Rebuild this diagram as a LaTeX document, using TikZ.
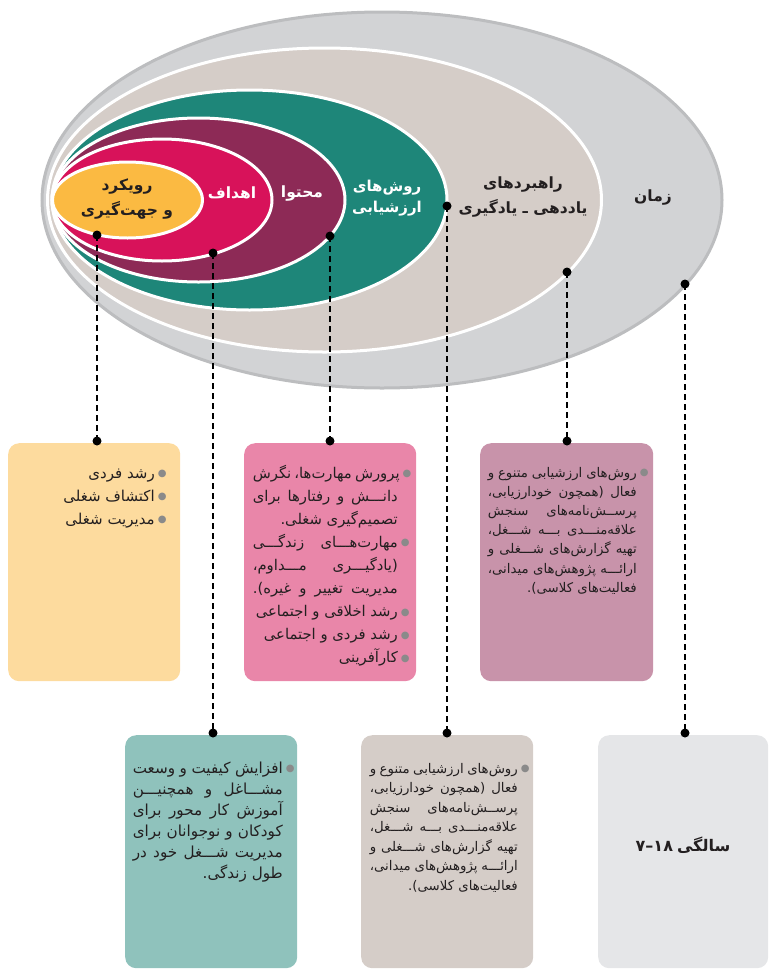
\documentclass[tikz,border=0pt]{standalone}
\usepackage{fontspec}
\newfontfamily\fa[Script=Arabic]{DejaVu Sans}
\TeXXeTstate=1
\definecolor{ellgray}{HTML}{D2D3D5}
\definecolor{ellgrayedge}{HTML}{BCBDBF}
\definecolor{ellbeige}{HTML}{D5CDC8}
\definecolor{ellteal}{HTML}{1E8679}
\definecolor{ellmaroon}{HTML}{8D2A56}
\definecolor{ellcrimson}{HTML}{D8125A}
\definecolor{ellorange}{HTML}{FBBA42}
\definecolor{boxorange}{HTML}{FDDB9E}
\definecolor{boxpink}{HTML}{E986A9}
\definecolor{boxmauve}{HTML}{C893AA}
\definecolor{boxteal}{HTML}{8FC2BC}
\definecolor{boxbeige}{HTML}{D5CDC8}
\definecolor{boxgray}{HTML}{E5E6E8}
\definecolor{bulgray}{HTML}{8A8A8A}
\definecolor{txt}{HTML}{231F20}
\newlength\colw
\newcommand\bulmark{{\color{bulgray}\fontsize{10}{10}\selectfont ●}}
\newcommand\jl[1]{\hbox to \colw{\beginR #1\endR}}
\newcommand\bl[1]{\hbox to \colw{\beginR #1\endR\rlap{\hskip 3pt\raise 1.5pt\hbox{\bulmark}}}}
\tikzset{
  ringline/.style={draw=white, line width=3pt},
  boxnode/.style={rounded corners=11pt, inner sep=0pt, draw=none, anchor=north west},
  conn/.style={black, line width=2pt, dash pattern=on 6pt off 4pt},
  pin/.style={fill=black},
  lab/.style={font=\fa\bfseries\fontsize{15.5}{25}\selectfont, align=center, inner sep=0pt},
  boxtext/.style={anchor=base east, inner sep=0pt, text=txt},
}
\begin{document}
\begin{tikzpicture}[x=1pt, y=-1pt]
\useasboundingbox (0,0) rectangle (770,970);
% ellipses
\fill[ellgray] (382,200) ellipse [x radius=340pt, y radius=188pt];
\draw[ellgrayedge, line width=3pt] (382,200) ellipse [x radius=340pt, y radius=188pt];
\filldraw[fill=ellbeige, ringline] (324.5,200) ellipse [x radius=277pt, y radius=152pt];
\filldraw[fill=ellteal, ringline] (249.5,200) ellipse [x radius=197.5pt, y radius=110pt];
\filldraw[fill=ellmaroon, ringline] (198.5,200) ellipse [x radius=146.5pt, y radius=82pt];
\filldraw[fill=ellcrimson, ringline] (162,200) ellipse [x radius=110pt, y radius=61pt];
\filldraw[fill=ellorange, ringline] (127.5,200) ellipse [x radius=75pt, y radius=38pt];
% labels
\node[lab, text=txt] (l1) at (127,199) {\beginR رویکرد\endR\\\beginR و جهت‌گیری\endR};
\node[lab, text=white] (l2) at (232,193) {\beginR اهداف\endR};
\node[lab, text=white] (l3) at (302,193) {\beginR محتوا\endR};
\node[lab, text=white, font=\fa\bfseries\fontsize{15}{21}\selectfont] (l4) at (387,198) {\beginR روش‌های\endR\\\beginR ارزشیابی\endR};
\node[lab, text=txt] (l5) at (523,197) {\beginR راهبردهای\endR\\\beginR یاددهی ـ یادگیری\endR};
\node[lab, text=txt] (l6) at (653,197) {\beginR زمان\endR};
% boxes
\node[boxnode, fill=boxorange, minimum width=172pt, minimum height=238pt] (b1) at (8,443) {};
\node[boxnode, fill=boxpink, minimum width=172pt, minimum height=238pt] (b2) at (244,443) {};
\node[boxnode, fill=boxmauve, minimum width=173pt, minimum height=238pt] (b3) at (480,443) {};
\node[boxnode, fill=boxteal, minimum width=172pt, minimum height=233pt] (b4) at (125,735) {};
\node[boxnode, fill=boxbeige, minimum width=172pt, minimum height=233pt] (b5) at (361,735) {};
\node[boxnode, fill=boxgray, minimum width=170pt, minimum height=233pt] (b6) at (598,735) {};
% connector end points on the rings
\coordinate (e1) at (97,235);
\coordinate (e2) at (213,253);
\coordinate (e3) at (330,236);
\coordinate (e4) at (447,206);
\coordinate (e5) at (567,272);
\coordinate (e6) at (685,284);
\coordinate (f1) at ([yshift=2pt]e1 |- b1.north);
\coordinate (f2) at ([yshift=2pt]e2 |- b4.north);
\coordinate (f3) at ([yshift=2pt]e3 |- b2.north);
\coordinate (f4) at ([yshift=2pt]e4 |- b5.north);
\coordinate (f5) at ([yshift=2pt]e5 |- b3.north);
\coordinate (f6) at ([yshift=2pt]e6 |- b6.north);
\foreach \a/\b in {e1/f1,e2/f2,e3/f3,e4/f4,e5/f5,e6/f6}{
  \draw[conn] (\a) -- (\b);
  \fill[pin] (\a) circle (4.5pt);
  \fill[pin] (\b) circle (4.5pt);
}
% box texts
\node[boxtext, font=\fa\fontsize{15}{23}\selectfont] (t1) at (155,478) {\setlength\colw{130pt}\vtop{\baselineskip=23pt
\bl{رشد فردی\hfill}
\bl{اکتشاف شغلی\hfill}
\bl{مدیریت شغلی\hfill}}};
\node[boxtext, font=\fa\fontsize{14.8}{23}\selectfont] (t2) at (398,478) {\setlength\colw{145pt}\vtop{\baselineskip=23.1pt
\bl{پرورش مهارت‌ها، نگرش}
\jl{دانـــش و رفتارها برای}
\jl{تصمیم‌گیری شغلی.\hfill}
\bl{مهارت‌هـــای زندگـــی}
\jl{(یادگیـــری مـــداوم،}
\jl{مدیریت تغییر و غیره).}
\bl{رشد اخلاقی و اجتماعی\hfill}
\bl{رشد فردی و اجتماعی\hfill}
\bl{کارآفرینی\hfill}}};
\node[boxtext, font=\fa\fontsize{13.3}{19}\selectfont] (t3) at (637,477) {\setlength\colw{149pt}\vtop{\baselineskip=19.2pt
\bl{روش‌های ارزشیابی متنوع و}
\jl{فعال (همچون خودارزیابی،}
\jl{پرســش‌نامه‌های سنجش}
\jl{علاقه‌منـــدی بـــه شـــغل،}
\jl{تهیه گزارش‌های شـــغلی و}
\jl{ارائـــه پژوهش‌های میدانی،}
\jl{فعالیت‌های کلاسی).\hfill}}};
\node[boxtext, font=\fa\fontsize{15.2}{21}\selectfont] (t4) at (283,773) {\setlength\colw{150pt}\vtop{\baselineskip=21pt
\bl{افزایش کیفیت و وسعت}
\jl{مشـــاغل و همچنیـــن}
\jl{آموزش کار محور برای}
\jl{کودکان و نوجوانان برای}
\jl{مدیریت شـــغل خود در}
\jl{طول زندگی.\hfill}}};
\node[boxtext, font=\fa\fontsize{13.3}{19}\selectfont] (t5) at (518,773) {\setlength\colw{148pt}\vtop{\baselineskip=19.5pt
\bl{روش‌های ارزشیابی متنوع و}
\jl{فعال (همچون خودارزیابی،}
\jl{پرســش‌نامه‌های سنجش}
\jl{علاقه‌منـــدی بـــه شـــغل،}
\jl{تهیه گزارش‌های شـــغلی و}
\jl{ارائـــه پژوهش‌های میدانی،}
\jl{فعالیت‌های کلاسی).\hfill}}};
\node[lab, text=txt, font=\fa\bfseries\fontsize{16}{20}\selectfont] (t6) at (683,845) {\hbox{۷}\hbox{–}\hbox{۱۸}\hskip 4pt\hbox{\beginR سالگی\endR}};
\end{tikzpicture}
\end{document}
